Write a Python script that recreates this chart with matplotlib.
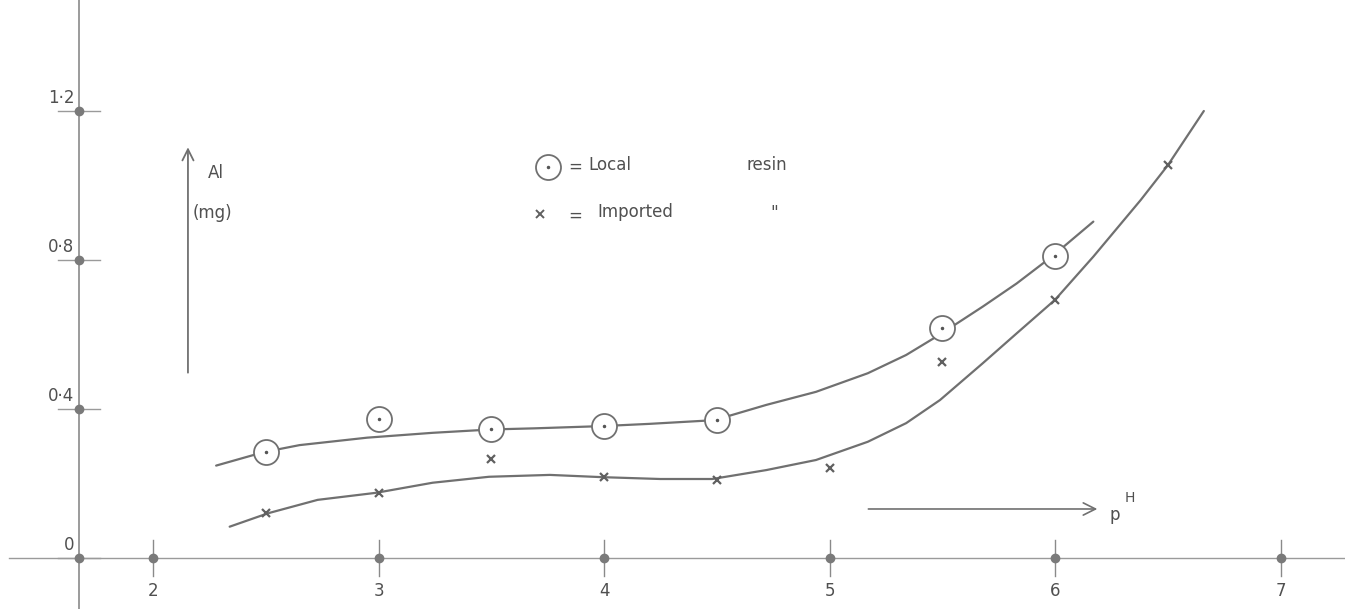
import numpy as np
import matplotlib
matplotlib.use('Agg')
import matplotlib.pyplot as plt

# readings taken off the hand drawn graph
local_ph = [2.5, 3.0, 3.5, 4.0, 4.5, 5.5, 6.0]
local_al = [0.284, 0.373, 0.345, 0.354, 0.370, 0.618, 0.811]

imported_ph = [2.5, 3.0, 3.5, 4.0, 4.5, 5.0, 5.5, 6.0, 6.5]
imported_al = [0.120, 0.175, 0.265, 0.217, 0.209, 0.241, 0.527, 0.693, 1.055]

# the two freehand curves, traced point by point
upper_ph = [2.28, 2.49, 2.65, 2.95, 3.24, 3.50, 3.69, 3.99, 4.20, 4.49,
            4.72, 4.94, 5.17, 5.34, 5.49, 5.68, 5.83, 5.99, 6.17]
upper_al = [0.248, 0.284, 0.303, 0.323, 0.336, 0.345, 0.348, 0.354, 0.360, 0.370,
            0.411, 0.446, 0.496, 0.545, 0.600, 0.675, 0.737, 0.811, 0.903]
lower_ph = [2.34, 2.51, 2.73, 2.99, 3.24, 3.49, 3.76, 3.99, 4.25, 4.48, 4.72,
            4.94, 5.17, 5.34, 5.49, 5.68, 5.83, 6.00, 6.17, 6.38, 6.50, 6.66]
lower_al = [0.084, 0.120, 0.156, 0.175, 0.202, 0.218, 0.223, 0.217, 0.212, 0.212, 0.236,
            0.263, 0.312, 0.362, 0.424, 0.523, 0.603, 0.693, 0.809, 0.961, 1.054, 1.200]

x_ticks = [2, 3, 4, 5, 6, 7]
x_labels = ['2', '3', '4', '5', '6', '7']
y_ticks = [0, 0.4, 0.8, 1.2]
y_labels = ['0', '0·4', '0·8', '1·2']

line_c = '#707070'
text_c = '#505050'
dot_c = '#7a7a7a'

fig = plt.figure(figsize=(13.45, 6.09), dpi=100)
ax = fig.add_axes([0, 0, 1, 1])
ax.set_xlim(1.3215, 7.286)
ax.set_ylim(-0.137, 1.498)
ax.axis('off')

y_axis_x = 1.672

# axes drawn by hand
ax.plot([1.36, 7.286], [0, 0], color='#9a9a9a', lw=1.0)
ax.plot([y_axis_x, y_axis_x], [-0.137, 1.498], color='#8a8a8a', lw=1.2)

for xt, lab in zip(x_ticks, x_labels):
    ax.plot([xt, xt], [-0.048, 0.048], color='#8a8a8a', lw=1.0)
    ax.plot(xt, 0, 'o', color=dot_c, ms=6)
    ax.text(xt, -0.088, lab, ha='center', va='center', fontsize=12, color=text_c)

for yt, lab in zip(y_ticks, y_labels):
    ax.plot([y_axis_x - 0.093, y_axis_x + 0.093], [yt, yt], color='#9a9a9a', lw=1.0)
    ax.plot(y_axis_x, yt, 'o', color=dot_c, ms=6)
    ax.text(y_axis_x - 0.02, yt + 0.035, lab, ha='right', va='center', fontsize=12, color=text_c)

# curves
ax.plot(upper_ph, upper_al, color=line_c, lw=1.6, solid_capstyle='round', solid_joinstyle='round')
ax.plot(lower_ph, lower_al, color=line_c, lw=1.6, solid_capstyle='round', solid_joinstyle='round')

# data points
ax.plot(local_ph, local_al, 'o', mfc='white', mec=line_c, mew=1.3, ms=18)
ax.plot(local_ph, local_al, '.', color='#555555', ms=3)
ax.plot(imported_ph, imported_al, 'x', color='#606060', mew=1.6, ms=6)

# y label arrow
ax.annotate('', xy=(2.155, 1.11), xytext=(2.155, 0.49),
            arrowprops=dict(arrowstyle='->', color=line_c, lw=1.3, mutation_scale=20))
ax.text(2.244, 1.034, 'Al', ha='left', va='center', fontsize=12, color=text_c)
ax.text(2.177, 0.926, '(mg)', ha='left', va='center', fontsize=12, color=text_c)

# x label arrow
ax.annotate('', xy=(6.2, 0.1315), xytext=(5.16, 0.1315),
            arrowprops=dict(arrowstyle='->', color=line_c, lw=1.2, mutation_scale=22))
ax.text(6.24, 0.115, 'p', ha='left', va='center', fontsize=12, color=text_c)
ax.text(6.31, 0.16, 'H', ha='left', va='center', fontsize=10, color=text_c)

# key
ax.plot(3.752, 1.05, 'o', mfc='white', mec=line_c, mew=1.3, ms=18)
ax.plot(3.752, 1.05, '.', color='#555555', ms=3)
ax.text(3.84, 1.05, '=', ha='left', va='center', fontsize=12, color=text_c)
ax.text(3.93, 1.055, 'Local', ha='left', va='center', fontsize=12, color=text_c)
ax.text(4.63, 1.055, 'resin', ha='left', va='center', fontsize=12, color=text_c)
ax.plot(3.717, 0.923, 'x', color='#606060', mew=1.4, ms=6)
ax.text(3.84, 0.918, '=', ha='left', va='center', fontsize=12, color=text_c)
ax.text(3.97, 0.928, 'Imported', ha='left', va='center', fontsize=12, color=text_c)
ax.text(4.74, 0.925, '"', ha='left', va='center', fontsize=12, color=text_c)

fig.savefig('out.png', dpi=100, facecolor='white')
